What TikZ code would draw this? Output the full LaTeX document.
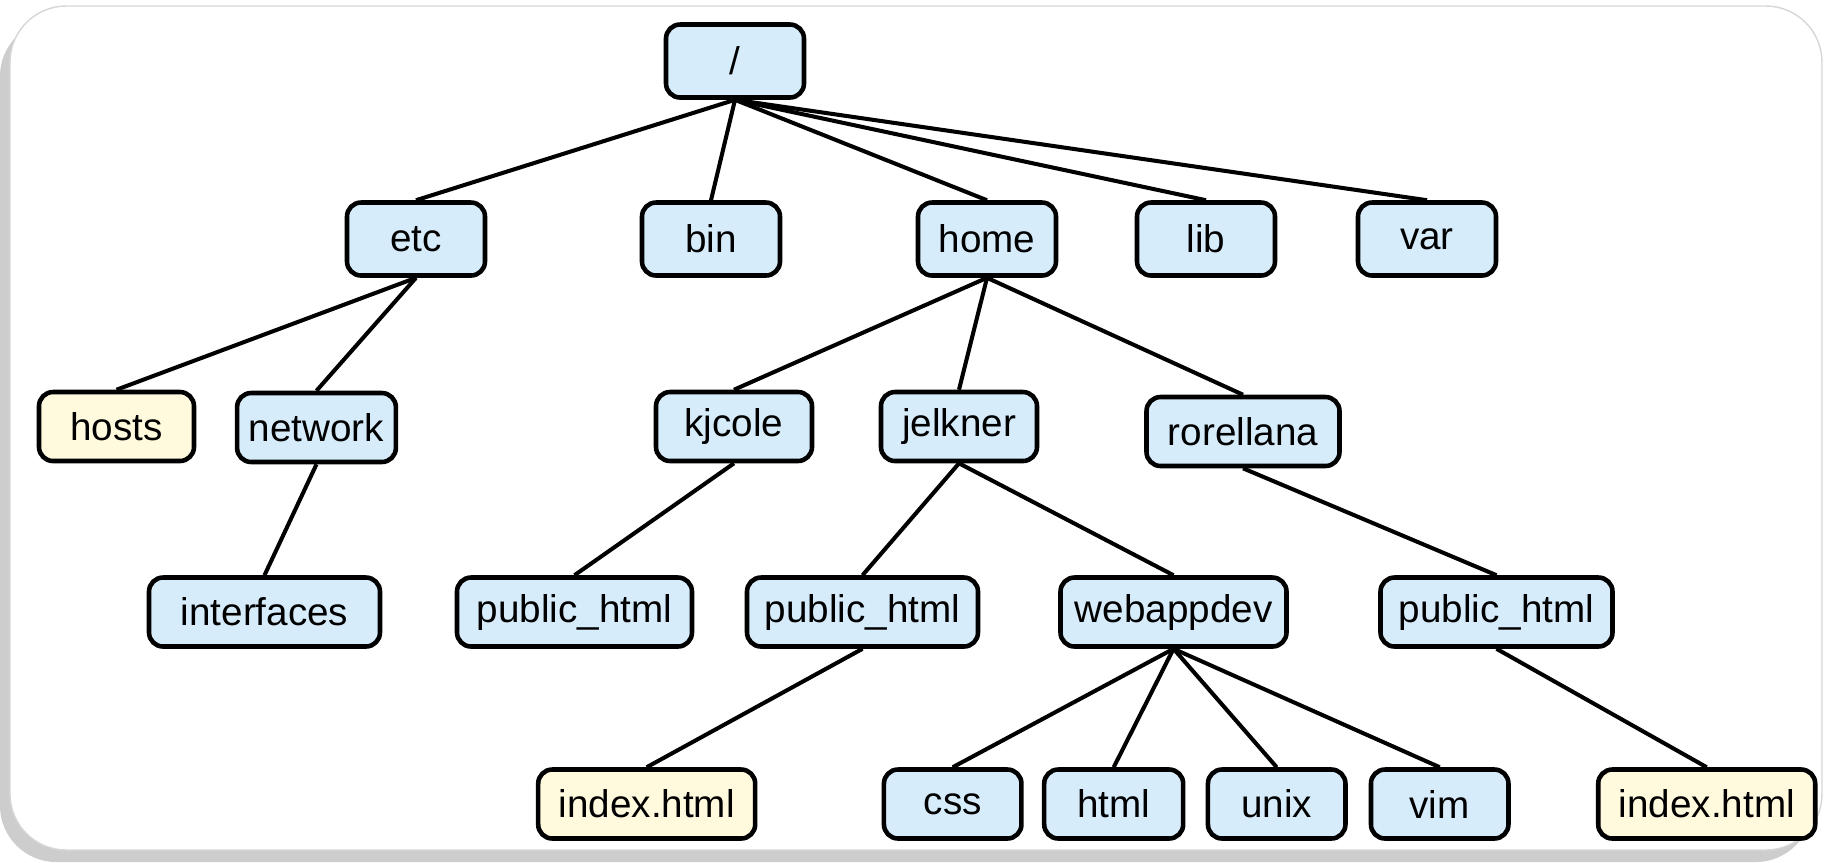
\documentclass[tikz,border=0pt]{standalone}
\usepackage{fontspec}
\setmainfont{Liberation Sans}
\usepackage{tikz}
\usetikzlibrary{positioning}
\usepackage{xcolor}
\definecolor{dirblue}{RGB}{214,236,250}
\definecolor{fileyellow}{RGB}{255,249,222}
\definecolor{framegray}{RGB}{205,205,205}
\tikzstyle{dir} = [rectangle, rounded corners=4pt, minimum height=0.69cm, text centered, draw=black, fill=dirblue, line width=1.3pt, font=\fontsize{11}{13}\selectfont]
\tikzstyle{topdir} = [dir, minimum width=1.38cm, minimum height=0.73cm]
\tikzstyle{file} = [dir, fill=fileyellow]
\tikzstyle{link} = [line width=1.15pt, color=black]

\begin{document}
\begin{tikzpicture}[node distance=2cm]
% Frame
\useasboundingbox (0,0) rectangle (18.27,-8.62);
\fill[framegray, rounded corners=16pt] (0,-0.2) rectangle (18.12,-8.62);
\draw[framegray!80, fill=white, rounded corners=16pt] (0.1,-0.06) rectangle (18.22,-8.5);

% Root and first level
\node (root) [topdir] at (7.35,-0.61) {/};
\node (etc) [topdir] at (4.16,-2.39) {etc};
\node (bin) [topdir, right of=etc, xshift=0.95cm] {bin};
\node (home) [topdir, right of=bin, xshift=0.76cm] {home};
\node (lib) [topdir, right of=home, xshift=0.19cm] {lib};
\node (var) [topdir, right of=lib, xshift=0.21cm] {var};

% Second level
\node (hosts) [file, minimum width=1.55cm] at (1.165,-4.265) {hosts};
\node (network) [dir, minimum width=1.55cm, right of=hosts, yshift=-0.01cm] {network};
\node (kjcole) [dir, minimum width=1.56cm] at (7.34,-4.265) {kjcole};
\node (jelkner) [dir, minimum width=1.56cm, right of=kjcole, xshift=0.25cm] {jelkner};
\node (rorellana) [dir, minimum width=1.93cm, right of=jelkner, xshift=0.84cm, yshift=-0.05cm] {rorellana};

% Third level
\node (interfaces) [dir, minimum width=2.31cm] at (2.645,-6.12) {interfaces};
\node (kjpublic) [dir, minimum width=2.35cm, right of=interfaces, xshift=1.1cm] {public\_html};
\node (jepublic) [dir, minimum width=2.31cm, right of=kjpublic, xshift=0.88cm] {public\_html};
\node (webappdev) [dir, minimum width=2.26cm, right of=jepublic, xshift=1.11cm] {webappdev};
\node (ropublic) [dir, minimum width=2.32cm, right of=webappdev, xshift=1.23cm] {public\_html};

% Fourth level
\node (jeindex) [file, minimum width=2.17cm] at (6.467,-8.04) {index.html};
\node (css) [dir, minimum width=1.375cm, right of=jeindex, xshift=1.06cm] {css};
\node (html) [dir, minimum width=1.39cm, right of=css, xshift=-0.39cm] {html};
\node (unix) [dir, minimum width=1.375cm, right of=html, xshift=-0.37cm] {unix};
\node (vim) [dir, minimum width=1.375cm, right of=unix, xshift=-0.37cm] {vim};
\node (roindex) [file, minimum width=2.17cm, right of=vim, xshift=0.67cm] {index.html};

% Links
\foreach \child in {etc,bin,home,lib,var}
  \draw[link] (root.south) -- (\child.north);
\draw[link] (etc.south) -- (hosts.north);
\draw[link] (etc.south) -- (network.north);
\draw[link] (home.south) -- (kjcole.north);
\draw[link] (home.south) -- (jelkner.north);
\draw[link] (home.south) -- (rorellana.north);
\draw[link] (network.south) -- (interfaces.north);
\draw[link] (kjcole.south) -- (kjpublic.north);
\draw[link] (jelkner.south) -- (jepublic.north);
\draw[link] (jelkner.south) -- (webappdev.north);
\draw[link] (rorellana.south) -- (ropublic.north);
\draw[link] (jepublic.south) -- (jeindex.north);
\foreach \child in {css,html,unix,vim}
  \draw[link] (webappdev.south) -- (\child.north);
\draw[link] (ropublic.south) -- (roindex.north);
\end{tikzpicture}
\end{document}
